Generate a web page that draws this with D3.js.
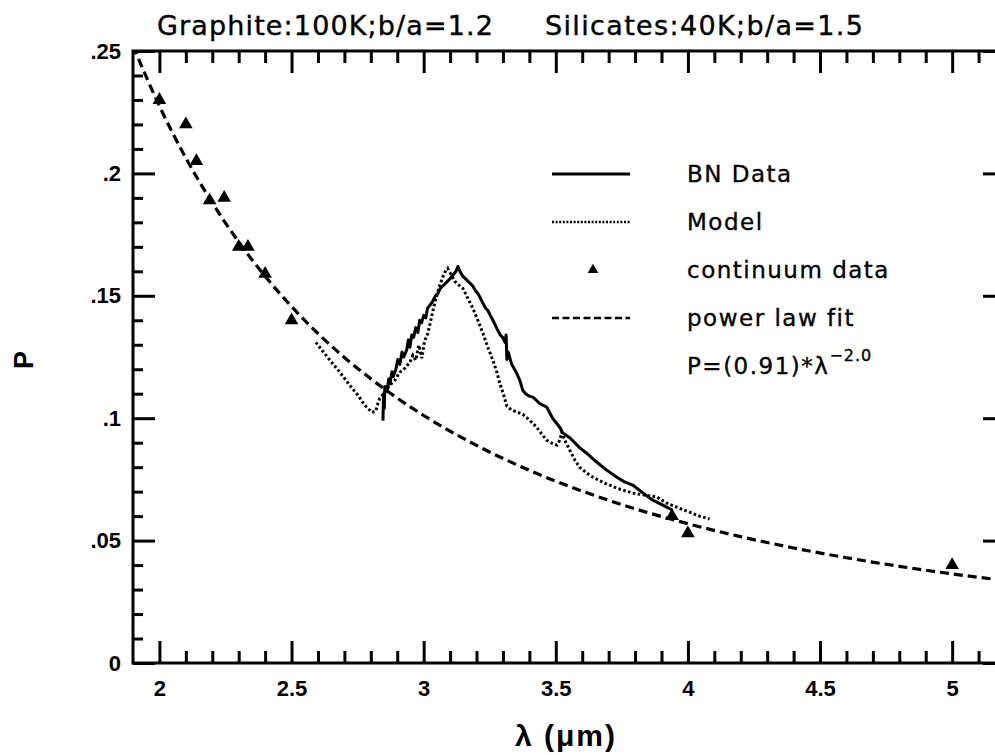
<!DOCTYPE html>
<html>
<head>
<meta charset="utf-8">
<script src="https://cdn.jsdelivr.net/npm/d3@7/dist/d3.min.js"></script>
<style>
  body { margin: 0; background: #fff; }
  svg { display: block; }
  .tick text { font-family: "Liberation Sans", Arial, sans-serif; font-weight: bold; font-size: 22px; fill: #000; }
  .tick line { stroke: #000; stroke-width: 3px; }
</style>
</head>
<body>
<svg width="995" height="755"></svg>
<script>
// tick labels
var xTickValues = [2, 2.5, 3, 3.5, 4, 4.5, 5];
var yTickValues = [0, 0.05, 0.1, 0.15, 0.2, 0.25];
var yTickLabels = ["0", ".05", ".1", ".15", ".2", ".25"];

var titles = ["Graphite:100K;b/a=1.2", "Silicates:40K;b/a=1.5"];
var legendNames = ["BN Data", "Model", "continuum data", "power law fit"];

// BN data (solid line)
var bnLambda = [2.846, 2.848, 2.851, 2.853, 2.861, 2.868, 2.872, 2.880, 2.885, 2.895, 2.902, 2.910, 2.918, 2.925,
  2.936, 2.942, 2.948, 2.955, 2.962, 2.970, 2.978, 2.985, 2.992, 3.000, 3.008, 3.015, 3.023, 3.035, 3.045,
  3.054, 3.063, 3.072, 3.082, 3.091, 3.100, 3.107, 3.115, 3.122, 3.130, 3.137, 3.148, 3.158, 3.167, 3.177,
  3.186, 3.196, 3.205, 3.215, 3.224, 3.234, 3.243, 3.252, 3.262, 3.271, 3.280, 3.290, 3.299, 3.308, 3.312,
  3.315, 3.320, 3.333, 3.349, 3.364, 3.375, 3.386, 3.400, 3.413, 3.420, 3.439, 3.466, 3.488, 3.515, 3.526,
  3.553, 3.590, 3.617, 3.650, 3.690, 3.731, 3.760, 3.791, 3.836, 3.867, 3.905, 3.942];
var bnP = [0.099, 0.110, 0.104, 0.113, 0.111, 0.116, 0.114, 0.119, 0.117, 0.120, 0.124, 0.122, 0.127, 0.125,
  0.128, 0.132, 0.129, 0.134, 0.133, 0.137, 0.135, 0.140, 0.139, 0.142, 0.141, 0.145, 0.146, 0.148, 0.150,
  0.151, 0.153, 0.154, 0.155, 0.156, 0.157, 0.158, 0.159, 0.160, 0.162, 0.160, 0.158, 0.157, 0.156, 0.155,
  0.154, 0.152, 0.151, 0.149, 0.147, 0.145, 0.144, 0.142, 0.140, 0.138, 0.136, 0.134, 0.133, 0.131, 0.134,
  0.124, 0.127, 0.122, 0.119, 0.1155, 0.1114, 0.110, 0.109, 0.1086, 0.108, 0.106, 0.1045, 0.100, 0.0963, 0.094,
  0.092, 0.088, 0.0857, 0.0825, 0.079, 0.0759, 0.074, 0.0727, 0.069, 0.0665, 0.0645, 0.0624];

// Model (dotted line)
var modelLambda = [2.592, 2.615, 2.645, 2.683, 2.720, 2.751, 2.777, 2.804, 2.819, 2.827, 2.834, 2.853, 2.872,
  2.891, 2.910, 2.929, 2.948, 2.959, 2.970, 2.982, 2.993, 3.004, 3.016, 3.027, 3.038, 3.050, 3.061, 3.072,
  3.084, 3.091, 3.099, 3.107, 3.118, 3.129, 3.148, 3.167, 3.186, 3.205, 3.224, 3.243, 3.262, 3.277, 3.288,
  3.303, 3.315, 3.333, 3.356, 3.375, 3.401, 3.428, 3.447, 3.466, 3.485, 3.504, 3.515, 3.523, 3.534, 3.553,
  3.572, 3.590, 3.617, 3.640, 3.685, 3.731, 3.791, 3.836, 3.882, 3.920, 3.957, 4.006, 4.044, 4.082];
var modelP = [0.1310, 0.1278, 0.1237, 0.1188, 0.1135, 0.1094, 0.1053, 0.1024, 0.1029, 0.1061, 0.1082, 0.1106,
  0.1135, 0.1155, 0.1188, 0.1204, 0.1229, 0.1257, 0.1237, 0.1298, 0.1245, 0.1318, 0.1347, 0.1400, 0.1453,
  0.1502, 0.1543, 0.1576, 0.1604, 0.1612, 0.1596, 0.1580, 0.1559, 0.1547, 0.1531, 0.1490, 0.1449, 0.1400,
  0.1347, 0.1290, 0.1237, 0.1188, 0.1143, 0.1094, 0.1049, 0.1033, 0.1024, 0.1016, 0.0992, 0.0963, 0.0935,
  0.0910, 0.0898, 0.0890, 0.0910, 0.0943, 0.0910, 0.0869, 0.0829, 0.0800, 0.0776, 0.0759, 0.0735, 0.0714,
  0.0694, 0.0686, 0.0678, 0.0653, 0.0637, 0.0616, 0.0600, 0.0588];

// continuum data (triangles)
var contLambda = [2.0, 2.1, 2.14, 2.19, 2.245, 2.3, 2.335, 2.4, 2.5, 3.94, 4.0, 5.0];
var contP = [0.230, 0.220, 0.205, 0.189, 0.190, 0.170, 0.170, 0.159, 0.140, 0.060, 0.053, 0.040];

// power law fit (dashed)
var fitLambda = [1.9, 2.0, 2.1, 2.2, 2.3, 2.4, 2.5, 2.6, 2.7, 2.8, 2.9, 3.0, 3.2, 3.4, 3.6, 3.8, 4.0, 4.2, 4.4, 4.6, 4.8, 5.0, 5.2];
var fitP = [0.2521, 0.2275, 0.2063, 0.1880, 0.1720, 0.1580, 0.1456, 0.1346, 0.1248, 0.1161, 0.1082, 0.1011,
  0.0889, 0.0787, 0.0702, 0.0630, 0.0569, 0.0516, 0.0470, 0.0430, 0.0395, 0.0364, 0.0337];

var svg = d3.select("svg");

var mLeft = 133, mRight = 1005, mTop = 51, mBottom = 663;

var x = d3.scaleLinear().domain([1.9, 5.2]).range([mLeft, mRight]);
var y = d3.scaleLinear().domain([0, 0.25]).range([mBottom, mTop]);

var xMinor = d3.range(20, 52).map(function(i) { return i / 10; }).filter(function(v) { return xTickValues.indexOf(v) < 0; });
var yMinor = d3.range(1, 25).map(function(i) { return i / 100; }).filter(function(v) { return yTickValues.indexOf(v) < 0; });

function cleanAxis(g) {
  g.select(".domain").remove();
}

// bottom
svg.append("g").attr("transform", "translate(0," + mBottom + ")")
    .call(d3.axisBottom(x).tickValues(xMinor).tickSize(-12).tickFormat(""))
    .call(cleanAxis);
svg.append("g").attr("transform", "translate(0," + mBottom + ")")
    .call(d3.axisBottom(x).tickValues(xTickValues).tickSize(-22).tickPadding(17).tickFormat(d3.format("")))
    .call(cleanAxis);
// top
svg.append("g").attr("transform", "translate(0," + mTop + ")")
    .call(d3.axisTop(x).tickValues(xMinor).tickSize(-12).tickFormat(""))
    .call(cleanAxis);
svg.append("g").attr("transform", "translate(0," + mTop + ")")
    .call(d3.axisTop(x).tickValues(xTickValues).tickSize(-22).tickFormat(""))
    .call(cleanAxis);
// left
svg.append("g").attr("transform", "translate(" + mLeft + ",0)")
    .call(d3.axisLeft(y).tickValues(yMinor).tickSize(-10).tickFormat(""))
    .call(cleanAxis);
svg.append("g").attr("transform", "translate(" + mLeft + ",0)")
    .call(d3.axisLeft(y).tickValues(yTickValues).tickSize(-22).tickPadding(12)
      .tickFormat(function(d, i) { return yTickLabels[i]; }))
    .call(cleanAxis);
// right
svg.append("g").attr("transform", "translate(" + mRight + ",0)")
    .call(d3.axisRight(y).tickValues(yMinor).tickSize(-10).tickFormat(""))
    .call(cleanAxis);
svg.append("g").attr("transform", "translate(" + mRight + ",0)")
    .call(d3.axisRight(y).tickValues(yTickValues).tickSize(-22).tickFormat(""))
    .call(cleanAxis);

// frame
svg.append("rect")
    .attr("x", mLeft).attr("y", mTop)
    .attr("width", mRight - mLeft).attr("height", mBottom - mTop)
    .attr("fill", "none").attr("stroke", "#000").attr("stroke-width", 3);

svg.append("clipPath").attr("id", "plot")
  .append("rect")
    .attr("x", mLeft).attr("y", mTop)
    .attr("width", mRight - mLeft).attr("height", mBottom - mTop);

var plot = svg.append("g").attr("clip-path", "url(#plot)");

var line = d3.line()
    .x(function(d) { return x(d[0]); })
    .y(function(d) { return y(d[1]); });

function pairs(a, b) { return a.map(function(v, i) { return [v, b[i]]; }); }

plot.append("path")
    .datum(pairs(fitLambda, fitP))
    .attr("d", line.curve(d3.curveMonotoneX))
    .attr("fill", "none").attr("stroke", "#000")
    .attr("stroke-width", 3.2).attr("stroke-dasharray", "9,5");

line.curve(d3.curveLinear);

plot.append("path")
    .datum(pairs(modelLambda, modelP))
    .attr("d", line)
    .attr("fill", "none").attr("stroke", "#000")
    .attr("stroke-width", 3).attr("stroke-dasharray", "2.6,2.4");

plot.append("path")
    .datum(pairs(bnLambda, bnP))
    .attr("d", line)
    .attr("fill", "none").attr("stroke", "#000")
    .attr("stroke-width", 3).attr("stroke-linejoin", "round");

var tri = d3.symbol().type(d3.symbolTriangle).size(80);
plot.selectAll(".cont")
    .data(pairs(contLambda, contP))
  .enter().append("path")
    .attr("class", "cont")
    .attr("d", tri)
    .attr("transform", function(d) { return "translate(" + x(d[0]) + "," + y(d[1]) + ")"; })
    .attr("fill", "#000");

// titles
var titleFont = '"DejaVu Sans", sans-serif';
svg.append("text").attr("x", 157).attr("y", 35)
    .attr("font-family", titleFont).attr("font-size", 27)
    .attr("stroke", "#000").attr("stroke-width", 0.4)
    .attr("textLength", 336).attr("lengthAdjust", "spacing")
    .text(titles[0]);
svg.append("text").attr("x", 545).attr("y", 35)
    .attr("font-family", titleFont).attr("font-size", 27)
    .attr("stroke", "#000").attr("stroke-width", 0.4)
    .attr("textLength", 318).attr("lengthAdjust", "spacing")
    .text(titles[1]);

// legend
var legY = [174, 222, 270, 318, 366];
var lg = svg.append("g");
lg.append("line").attr("x1", 552).attr("x2", 630).attr("y1", legY[0]).attr("y2", legY[0])
    .attr("stroke", "#000").attr("stroke-width", 2.8);
lg.append("line").attr("x1", 552).attr("x2", 630).attr("y1", legY[1]).attr("y2", legY[1])
    .attr("stroke", "#000").attr("stroke-width", 2.4).attr("stroke-dasharray", "2,1.6");
lg.append("path").attr("d", d3.symbol().type(d3.symbolTriangle).size(50))
    .attr("transform", "translate(593," + legY[2] + ")").attr("fill", "#000");
lg.append("line").attr("x1", 552).attr("x2", 630).attr("y1", legY[3]).attr("y2", legY[3])
    .attr("stroke", "#000").attr("stroke-width", 2.6).attr("stroke-dasharray", "7,3.5");

legendNames.forEach(function(n, i) {
  lg.append("text").attr("x", 687).attr("y", legY[i] + 8)
      .attr("font-family", titleFont).attr("font-size", 23).attr("letter-spacing", 1.5)
      .attr("stroke", "#000").attr("stroke-width", 0.35)
      .text(n);
});
var eq = lg.append("text").attr("x", 687).attr("y", legY[4] + 8)
    .attr("font-family", titleFont).attr("font-size", 23).attr("letter-spacing", 1.5)
    .attr("stroke", "#000").attr("stroke-width", 0.35);
eq.append("tspan").text("P=(0.91)*λ");
eq.append("tspan").attr("dy", -13).attr("font-size", 16).attr("letter-spacing", 1).text("−2.0");

// axis titles
svg.append("text")
    .attr("x", 566).attr("y", 746)
    .attr("text-anchor", "middle")
    .attr("font-family", '"Liberation Sans", Arial, sans-serif')
    .attr("font-weight", "bold").attr("font-size", 30).attr("letter-spacing", 2)
    .text("λ (μm)");

svg.append("text")
    .attr("transform", "translate(33,360) rotate(-90)")
    .attr("text-anchor", "middle")
    .attr("font-family", '"Liberation Sans", Arial, sans-serif')
    .attr("font-weight", "bold").attr("font-size", 27)
    .text("P");
</script>
</body>
</html>
